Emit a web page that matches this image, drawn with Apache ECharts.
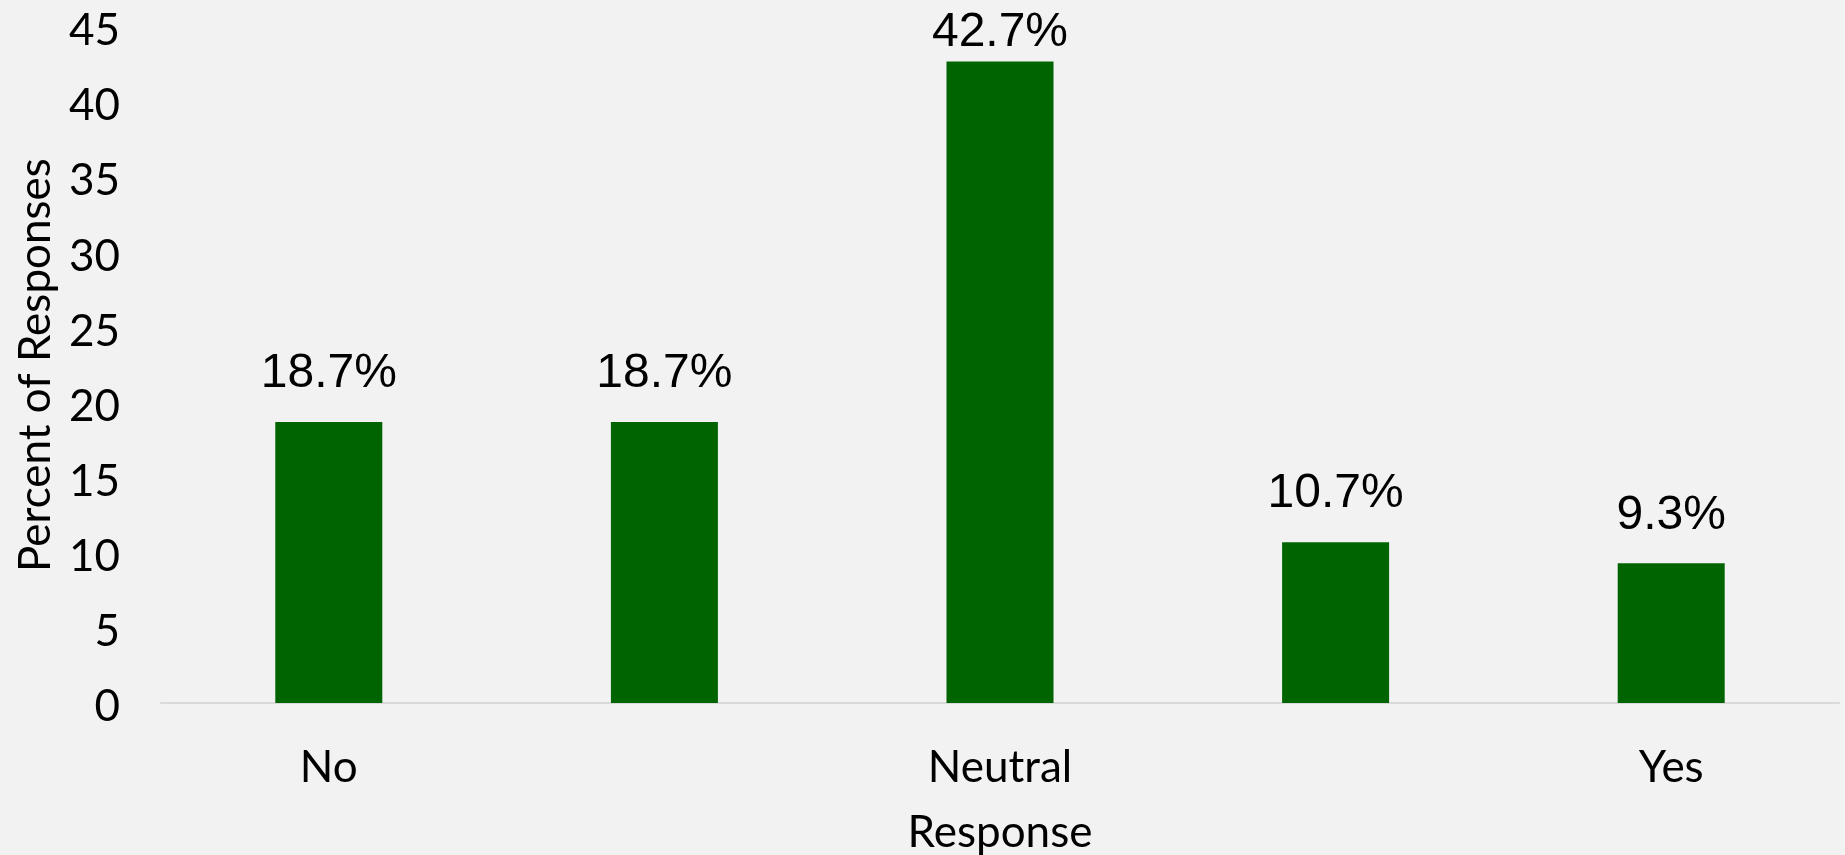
<!DOCTYPE html>
<html>
<head>
<meta charset="utf-8">
<script src="https://cdn.jsdelivr.net/npm/echarts@6/dist/echarts.min.js"></script>
<style>
html,body{margin:0;padding:0;background:#f2f2f2;}
#chart{width:1845px;height:855px;}
</style>
</head>
<body>
<div id="chart"></div>
<script>
const categories = ['No', ' ', 'Neutral', '  ', 'Yes'];
const percentValues = [18.7, 18.7, 42.7, 10.7, 9.3];
const yTicks = { min: 0, max: 45, interval: 5 };
const xAxisTitle = 'Response';
const yAxisTitle = 'Percent of Responses';

const chart = echarts.init(document.getElementById('chart'));
chart.setOption({
  backgroundColor: '#f2f2f2',
  animation: false,
  grid: { left: 161, right: 6, top: 27, bottom: 152, containLabel: false, outerBoundsMode: 'none' },
  xAxis: {
    type: 'category',
    data: categories,
    name: xAxisTitle,
    nameLocation: 'middle',
    nameGap: 108,
    nameTextStyle: { fontFamily: 'Lato', fontSize: 44, color: '#000' },
    axisLine: { lineStyle: { color: '#d9d9d9', width: 2 } },
    axisTick: { show: false },
    axisLabel: { fontFamily: 'Lato', fontSize: 44, color: '#000', margin: 43, interval: 0 }
  },
  yAxis: {
    type: 'value',
    min: yTicks.min,
    max: yTicks.max,
    interval: yTicks.interval,
    name: yAxisTitle,
    nameLocation: 'middle',
    nameGap: 100,
    nameRotate: 90,
    nameTextStyle: { fontFamily: 'Lato', fontSize: 44, color: '#000' },
    axisLine: { show: false },
    axisTick: { show: false },
    splitLine: { show: false },
    axisLabel: {
      fontFamily: 'Lato', fontSize: 44, color: '#000', margin: 41,
      verticalAlign: 'top', lineHeight: 44, padding: [-18, 0, 0, 0]
    }
  },
  series: [{
    type: 'bar',
    data: percentValues,
    barWidth: 107,
    itemStyle: { color: '#006400' },
    label: {
      show: true,
      position: 'top',
      distance: 24,
      formatter: p => p.value.toFixed(1) + '%',
      fontFamily: 'Liberation Sans',
      fontSize: 48,
      color: '#000'
    },
    labelLayout: function (params) {
      const r = params.labelRect;
      if (r.y < 9) return { dy: 9 - r.y };
      return {};
    }
  }]
});
</script>
</body>
</html>
